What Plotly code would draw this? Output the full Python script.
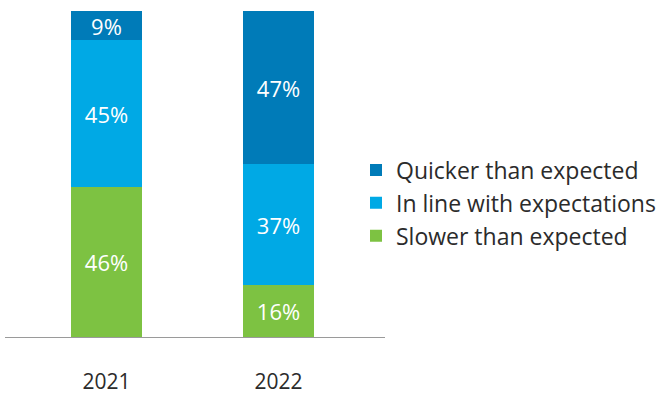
import plotly.graph_objects as go

years = ["2021", "2022"]
series_names = ["Slower than expected", "In line with expectations", "Quicker than expected"]
slower = [46, 16]
inline = [45, 37]
quicker = [9, 47]
colors = ["#7dc242", "#00a9e5", "#007bb8"]

W, H = 661, 396
ML, MR, MT, MB = 5, 5, 11, 59
pw = W - ML - MR

fig = go.Figure()
for name, vals, col in zip(series_names, [slower, inline, quicker], colors):
    fig.add_trace(go.Bar(
        x=years, y=vals, name=name, marker_color=col, marker_line_width=0,
        text=[f"{v}%" for v in vals], textposition="inside", insidetextanchor="middle",
        constraintext="none",
        textfont=dict(color="white", size=22, family="Open Sans"),
        width=0.413, hoverinfo="skip",
    ))

fig.update_layout(
    barmode="stack",
    width=W, height=H,
    margin=dict(l=ML, r=MR, t=MT, b=MB, autoexpand=False),
    paper_bgcolor="white", plot_bgcolor="white",
    font=dict(family="Open Sans", color="#2b2b2b", size=22),
    showlegend=True,
    legend=dict(
        traceorder="reversed",
        x=(356 - ML) / pw, xanchor="left",
        y=1 - (203 - MT) / (H - MT - MB), yanchor="middle",
        font=dict(size=23, color="#2b2b2b", family="Open Sans"),
        bgcolor="rgba(0,0,0,0)",
    ),
    xaxis=dict(
        type="category", range=[-0.59, 1.619],
        domain=[0, 380 / pw],
        showline=True, linecolor="#9a9a9a", linewidth=1,
        showgrid=False, ticks="", ticklabelstandoff=26,
        tickfont=dict(size=21, color="#2b2b2b"),
    ),
    yaxis=dict(range=[0, 100], visible=False, showgrid=False, zeroline=False),
)

fig.write_html("out.html", config={"displayModeBar": False},
               post_script="document.body.style.margin='0';")
